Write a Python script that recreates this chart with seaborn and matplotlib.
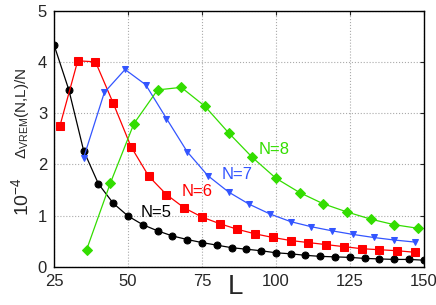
import numpy as np
import pandas as pd
import matplotlib
matplotlib.use("Agg")
import matplotlib.pyplot as plt
import seaborn as sns

# N=5 data
L5 = [25, 30, 35, 40, 45, 50, 55, 60, 65, 70, 75, 80, 85, 90, 95, 100, 105, 110,
      115, 120, 125, 130, 135, 140, 145, 150]
y5 = [4.34, 3.46, 2.27, 1.62, 1.24, 0.99, 0.82, 0.70, 0.60, 0.53, 0.47, 0.42, 0.37,
      0.34, 0.31, 0.27, 0.25, 0.22, 0.20, 0.19, 0.18, 0.16, 0.15, 0.14, 0.14, 0.125]
# N=6
L6 = [27, 33, 39, 45, 51, 57, 63, 69, 75, 81, 87, 93, 99, 105, 111, 117, 123, 129,
      135, 141, 147]
y6 = [2.76, 4.03, 4.01, 3.20, 2.35, 1.77, 1.41, 1.15, 0.97, 0.84, 0.73, 0.64, 0.57,
      0.51, 0.47, 0.43, 0.39, 0.35, 0.33, 0.31, 0.28]
# N=7
L7 = [35, 42, 49, 56, 63, 70, 77, 84, 91, 98, 105, 112, 119, 126, 133, 140, 147]
y7 = [2.13, 3.41, 3.86, 3.56, 2.90, 2.25, 1.78, 1.46, 1.22, 1.03, 0.88, 0.78, 0.70,
      0.63, 0.57, 0.52, 0.48]
# N=8
L8 = [36, 44, 52, 60, 68, 76, 84, 92, 100, 108, 116, 124, 132, 140, 148]
y8 = [0.33, 1.63, 2.80, 3.46, 3.51, 3.14, 2.62, 2.14, 1.73, 1.45, 1.23, 1.07, 0.93,
      0.82, 0.75]

labels = ["N=5", "N=6", "N=7", "N=8"]
colors = ["black", "#ff0000", "#3355ff", "#33dd00"]
markers = ["o", "s", "v", "D"]
msizes = [5, 5.5, 5, 5]
label_pos = [(59.5, 1.05), (73.5, 1.47), (87, 1.80), (99.3, 2.30)]

xticks = [25, 50, 75, 100, 125, 150]
yticks = [0, 1, 2, 3, 4, 5]

sns.set_style("white")
plt.rcParams['font.family'] = ['Liberation Sans', 'DejaVu Sans']
plt.rcParams['mathtext.fontset'] = 'custom'
plt.rcParams['mathtext.rm'] = 'Liberation Sans'
plt.rcParams['mathtext.it'] = 'Liberation Sans:italic'
plt.rcParams['mathtext.bf'] = 'Liberation Sans:bold'

fig = plt.figure(figsize=(4.36, 3.05), dpi=100)
ax = fig.add_axes([0.124, 0.126, 0.848, 0.837])

series = [(L5, y5), (L6, y6), (L7, y7), (L8, y8)]
for (Ls, ys), lab, c, m, ms in zip(series, labels, colors, markers, msizes):
    df = pd.DataFrame({"L": Ls, "v": ys})
    sns.lineplot(data=df, x="L", y="v", ax=ax, color=c, marker=m, markersize=ms,
                 markeredgecolor=c, linewidth=0.9, legend=False)

for (lx, ly), lab, c in zip(label_pos, labels, colors):
    ax.text(lx, ly, lab, color=c, fontsize=12, ha="center", va="center")

ax.set_xlim(25, 150)
ax.set_ylim(0, 5)
ax.set_xticks(xticks)
ax.set_yticks(yticks)
ax.tick_params(direction="in", top=True, right=True, labelsize=12, length=3, pad=5)
ax.grid(True, linestyle=":", color="#aaaaaa", linewidth=0.8)
for s in ax.spines.values():
    s.set_color("black")
    s.set_linewidth(1.0)
ax.set_xlabel("")
ax.set_ylabel("")

fig.text(0.54, 0.015, "L", fontsize=20, ha="center", va="bottom")
fig.text(0.048, 0.355, r"$\mathrm{10^{-4}}$", fontsize=14, rotation=90,
         ha="center", va="center")
fig.text(0.05, 0.63, r"$\mathrm{\Delta_{VREM}}$(N,L)/N", fontsize=11, rotation=90,
         ha="center", va="center")

fig.savefig("out.png", dpi=100)
